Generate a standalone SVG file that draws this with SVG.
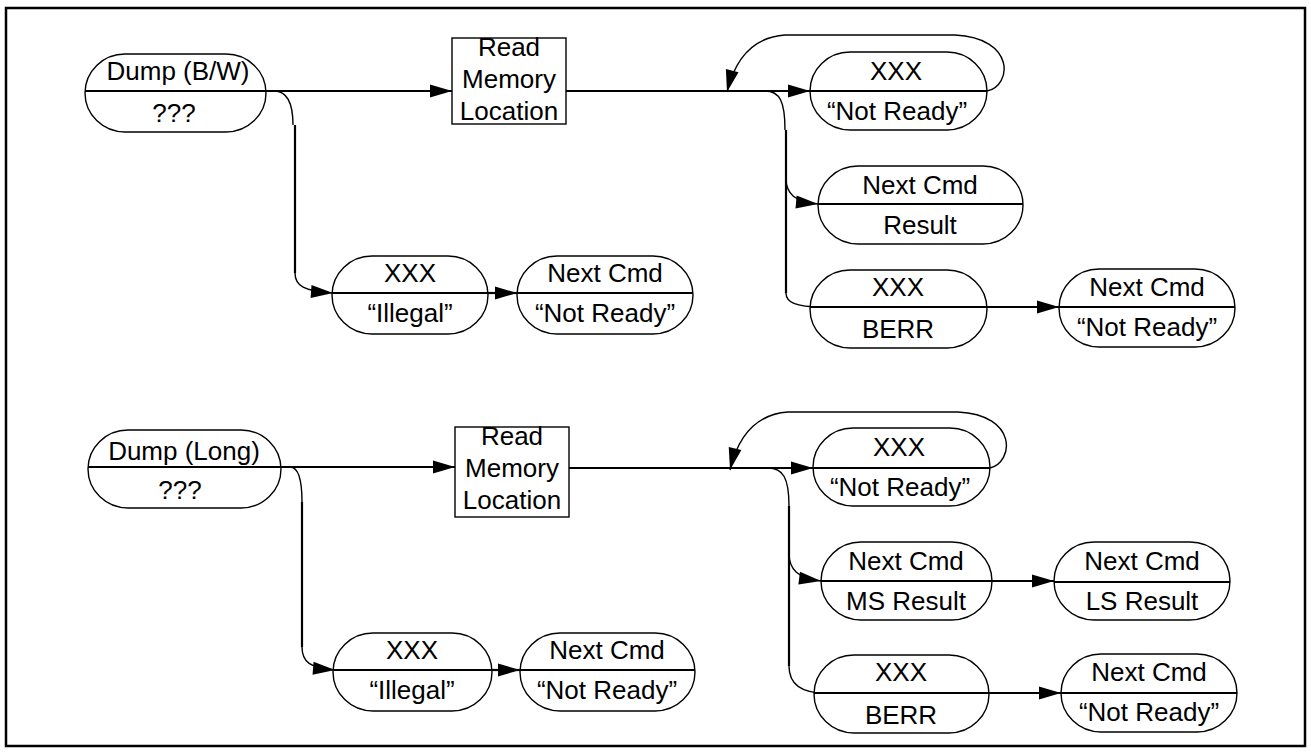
<svg xmlns="http://www.w3.org/2000/svg" width="1311" height="752" viewBox="0 0 1311 752">
<defs>
<style>
.n{fill:#fff;stroke:#000;stroke-width:1.4}
.d{stroke:#000;stroke-width:2.2;fill:none}
.c{stroke:#000;stroke-width:2.2;fill:none}
.cv{stroke:#000;stroke-width:1.4;fill:none}
text{font-family:"Liberation Sans",Arial,sans-serif;font-size:26px;fill:#000;text-anchor:middle}
</style>
<marker id="ah" markerUnits="userSpaceOnUse" markerWidth="22" markerHeight="13" refX="22" refY="6.5" orient="auto" overflow="visible"><path d="M0,0 L22,6.5 L0,13 z" fill="#000"/></marker>
</defs>
<rect x="6" y="8" width="1299" height="738" fill="#fff" stroke="#000" stroke-width="2.5"/>

<g id="connectors">
<path class="c" d="M266 91 H452" marker-end="url(#ah)"/>
<path class="cv" d="M274 91 C288 91 293 104 293 125"/>
<path class="c" d="M295 125 V273"/>
<path class="cv" d="M295 273 C295 286 304 291 333 293" marker-end="url(#ah)"/>
<path class="c" d="M488 293 H517" marker-end="url(#ah)"/>
<path class="c" d="M566 91 H810" marker-end="url(#ah)"/>
<path class="cv" d="M987 91 C1012 86 1016 38 955 35 H785 C756 37 736 55 727 92" marker-end="url(#ah)"/>
<path class="cv" d="M765 91 C780 91 785 102 785 130"/>
<path class="c" d="M786 130 V293"/>
<path class="cv" d="M786 178 C786 194 795 202 818 204" marker-end="url(#ah)"/>
<path class="cv" d="M786 293 C786 302 795 307 822 307"/>
<path class="c" d="M822 307 H1059" marker-end="url(#ah)"/>
<path class="c" d="M281 467 H455" marker-end="url(#ah)"/>
<path class="cv" d="M290 467 C298 467 302 480 302 502"/>
<path class="c" d="M302 502 V647"/>
<path class="cv" d="M302 647 C302 662 310 668 335 670" marker-end="url(#ah)"/>
<path class="c" d="M492 670 H520" marker-end="url(#ah)"/>
<path class="c" d="M569 468 H813" marker-end="url(#ah)"/>
<path class="cv" d="M990 468 C1014 462 1018 415 958 412 H788 C759 414 739 432 730 470" marker-end="url(#ah)"/>
<path class="cv" d="M768 468 C783 468 789 478 789 506"/>
<path class="c" d="M789 506 V666"/>
<path class="cv" d="M789 553 C789 570 798 578 821 581" marker-end="url(#ah)"/>
<path class="c" d="M992 581 H1054" marker-end="url(#ah)"/>
<path class="cv" d="M789 666 C789 682 798 693 825 693"/>
<path class="c" d="M825 693 H1061" marker-end="url(#ah)"/>
</g>

<g id="dumpbw">
<rect class="n" x="85" y="54" width="181" height="78" rx="40" ry="39"/>
<path class="d" d="M85 91 H266"/>
<text x="178" y="80">Dump (B/W)</text>
<text x="174" y="122">???</text>
</g>
<g id="read1">
<rect class="n" x="452" y="38" width="114" height="86" fill="none"/>
<text x="509" y="56">Read</text>
<text x="509" y="88">Memory</text>
<text x="509" y="120">Location</text>
</g>
<g id="nr1">
<rect class="n" x="810" y="52" width="177" height="78" rx="40" ry="39"/>
<path class="d" d="M810 91 H987"/>
<text x="896" y="80">XXX</text>
<text x="897" y="120">“Not Ready”</text>
</g>
<g id="result1">
<rect class="n" x="818" y="166" width="205" height="78" rx="40" ry="39"/>
<path class="d" d="M818 204 H1023"/>
<text x="920" y="194">Next Cmd</text>
<text x="920" y="234">Result</text>
</g>
<g id="berr1">
<rect class="n" x="810" y="270" width="177" height="78" rx="40" ry="39"/>
<path class="d" d="M810 307 H987"/>
<text x="898" y="296">XXX</text>
<text x="898" y="338">BERR</text>
</g>
<g id="nc1b">
<rect class="n" x="1059" y="269" width="176" height="78" rx="40" ry="39"/>
<path class="d" d="M1059 307 H1235"/>
<text x="1147" y="296">Next Cmd</text>
<text x="1147" y="336">“Not Ready”</text>
</g>
<g id="ill1">
<rect class="n" x="332" y="256" width="156" height="78" rx="40" ry="39"/>
<path class="d" d="M332 293 H488"/>
<text x="410" y="282">XXX</text>
<text x="410" y="322">“Illegal”</text>
</g>
<g id="nc1a">
<rect class="n" x="517" y="256" width="176" height="78" rx="40" ry="39"/>
<path class="d" d="M517 293 H693"/>
<text x="605" y="282">Next Cmd</text>
<text x="605" y="322">“Not Ready”</text>
</g>

<g id="dumplong">
<rect class="n" x="88" y="430" width="193" height="78" rx="40" ry="39"/>
<path class="d" d="M88 467 H281"/>
<text x="184" y="460">Dump (Long)</text>
<text x="180" y="499">???</text>
</g>
<g id="read2">
<rect class="n" x="455" y="427" width="114" height="90" fill="none"/>
<text x="512" y="445">Read</text>
<text x="512" y="477">Memory</text>
<text x="512" y="509">Location</text>
</g>
<g id="nr2">
<rect class="n" x="813" y="428" width="177" height="78" rx="40" ry="39"/>
<path class="d" d="M813 468 H990"/>
<text x="899" y="456">XXX</text>
<text x="900" y="496">“Not Ready”</text>
</g>
<g id="ms">
<rect class="n" x="821" y="542" width="171" height="78" rx="40" ry="39"/>
<path class="d" d="M821 581 H992"/>
<text x="906" y="570">Next Cmd</text>
<text x="906" y="610">MS Result</text>
</g>
<g id="ls">
<rect class="n" x="1054" y="542" width="176" height="78" rx="40" ry="39"/>
<path class="d" d="M1054 582 H1230"/>
<text x="1142" y="570">Next Cmd</text>
<text x="1142" y="610">LS Result</text>
</g>
<g id="berr2">
<rect class="n" x="814" y="655" width="175" height="78" rx="40" ry="39"/>
<path class="d" d="M814 693 H989"/>
<text x="901" y="681">XXX</text>
<text x="901" y="724">BERR</text>
</g>
<g id="nc2b">
<rect class="n" x="1061" y="654" width="176" height="78" rx="40" ry="39"/>
<path class="d" d="M1061 693 H1237"/>
<text x="1149" y="681">Next Cmd</text>
<text x="1149" y="721">“Not Ready”</text>
</g>
<g id="ill2">
<rect class="n" x="333" y="633" width="159" height="78" rx="40" ry="39"/>
<path class="d" d="M333 670 H492"/>
<text x="412" y="659">XXX</text>
<text x="412" y="699">“Illegal”</text>
</g>
<g id="nc2a">
<rect class="n" x="520" y="633" width="175" height="78" rx="40" ry="39"/>
<path class="d" d="M520 670 H695"/>
<text x="607" y="659">Next Cmd</text>
<text x="607" y="699">“Not Ready”</text>
</g>
</svg>
